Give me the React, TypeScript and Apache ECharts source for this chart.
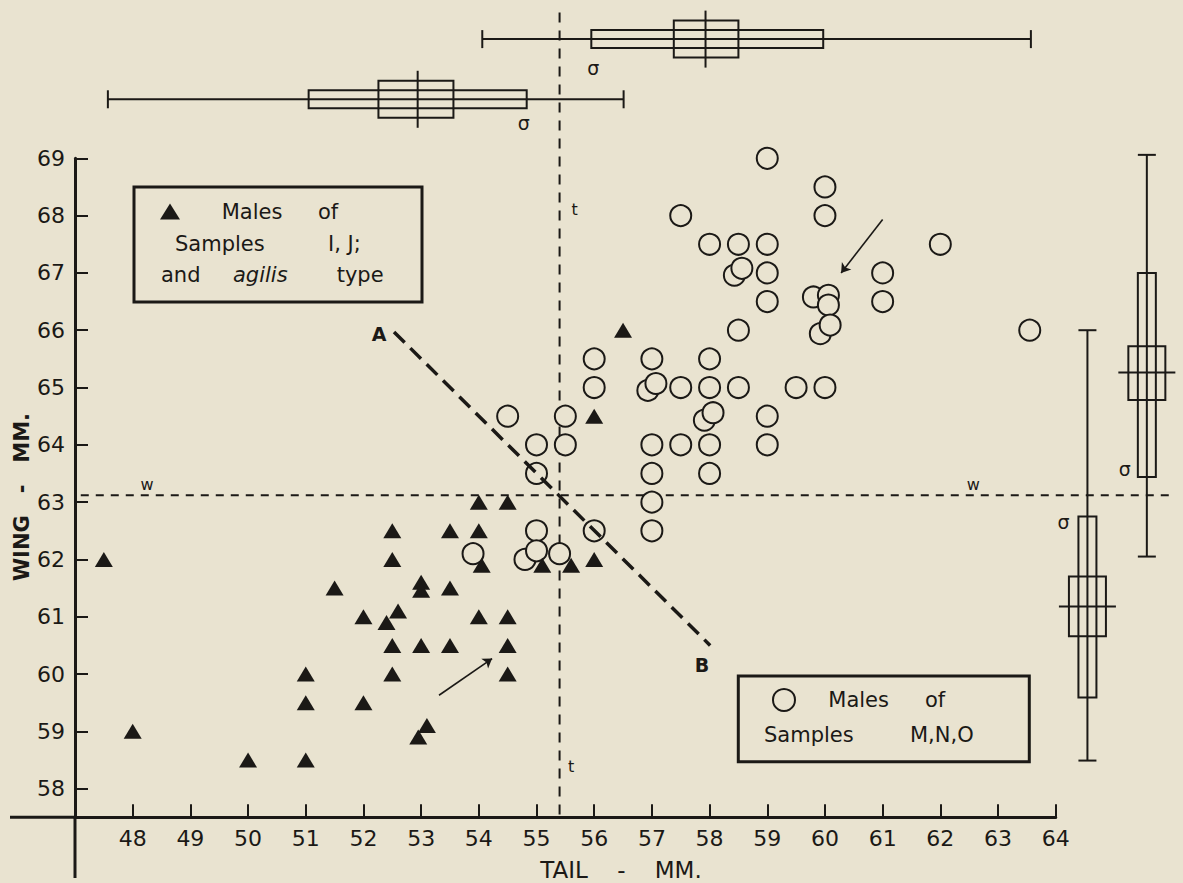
import React, { useEffect, useRef } from "react";
import * as echarts from "echarts";

// ---------- data ----------
const xTickValues = [48, 49, 50, 51, 52, 53, 54, 55, 56, 57, 58, 59, 60, 61, 62, 63, 64];
const yTickValues = [58, 59, 60, 61, 62, 63, 64, 65, 66, 67, 68, 69];

// Males of Samples M, N, O  (tail, wing)
const samplesMNO: number[][] = [
  [59, 69], [57.5, 68], [60, 68.5], [60, 68],
  [58, 67.5], [58.5, 67.5], [59, 67.5], [62, 67.5],
  [58.43, 66.96], [58.56, 67.08], [59, 67], [61, 67],
  [59, 66.5], [61, 66.5],
  [59.8, 66.58], [60.06, 66.61], [60.06, 66.44], [59.92, 65.94], [60.09, 66.09],
  [63.55, 66], [58.5, 66],
  [56, 65.5], [57, 65.5], [58, 65.5],
  [56, 65], [56.93, 64.95], [57.07, 65.07], [57.5, 65], [58, 65], [58.5, 65], [59.5, 65], [60, 65],
  [57.91, 64.43], [58.06, 64.56], [59, 64.5], [59, 64],
  [54.5, 64.5], [55.5, 64.5], [55, 64], [55.5, 64], [55, 63.5],
  [57, 64], [57.5, 64], [58, 64], [57, 63.5], [58, 63.5], [57, 63], [57, 62.5],
  [55, 62.5], [56, 62.5], [53.9, 62.1],
  [54.8, 62.0], [55.0, 62.15], [55.4, 62.1],
];

// Males of Samples I, J; and agilis type (tail, wing)
const samplesIJ: number[][] = [
  [47.5, 62], [48, 59], [50, 58.5], [51, 58.5], [51, 60], [51, 59.5],
  [51.5, 61.5], [52, 61], [52, 59.5], [52.5, 62.5], [52.5, 62],
  [52.4, 60.9], [52.6, 61.1], [52.5, 60.5], [52.5, 60],
  [53, 61.6], [53, 61.46], [53.5, 61.5], [53.5, 62.5], [54, 62.5],
  [54, 63], [54.5, 63], [54.05, 61.9], [54, 61], [54.5, 61],
  [53, 60.5], [53.5, 60.5], [54.5, 60.5], [54.5, 60],
  [53.1, 59.1], [52.95, 58.9],
  [55.1, 61.9], [55.6, 61.9], [56, 62], [56, 64.5], [56.5, 66],
];

// statistics: [min, -sigma, -2se, mean, +2se, +sigma, max]
const tailStatsIJ = [47.57, 51.05, 52.26, 52.94, 53.56, 54.83, 56.51];
const tailStatsMNO = [54.06, 55.95, 57.38, 57.93, 58.5, 59.97, 63.57];
const wingStatsIJ = [58.49, 59.59, 60.66, 61.18, 61.7, 62.75, 66.0];
const wingStatsMNO = [62.05, 63.44, 64.78, 65.26, 65.72, 67.0, 69.06];

const meanTailLine = 55.4;
const meanWingLine = 63.12;
const wLineExtent = [47.1, 66.03];
const tLineExtent = [57.55, 71.55];
const lineAB = [[52.53, 65.97], [58.01, 60.5]];
const arrowLines = [
  [[53.31, 59.63], [54.23, 60.27]],
  [[61.0, 67.93], [60.28, 67.0]],
];
const annotationLabels = ["w", "w", "t", "t", "A", "B"];
const annotationX = [48.25, 62.57, 55.66, 55.6, 52.27, 57.87];
const annotationY = [63.3, 63.3, 68.1, 58.38, 65.94, 60.15];

// ---------- layout / style ----------
const INK = "#1b1916";
const BG = "#e9e3d0";
const FONT = "DejaVu Sans";
const W = 1183;
const H = 883;
const GRID = { left: 75, right: W - 1055.7, top: 158.3, bottom: H - 817.3 };

// box placement on the opposite axis: [orientation (0 horiz, 1 vert), position, sigma end (0 low, 1 high)]
const boxPlacement = [
  [0, 70.03, 1],
  [0, 71.08, 0],
  [1, 64.55, 1],
  [1, 65.58, 0],
];
const boxStats = [tailStatsIJ, tailStatsMNO, wingStatsIJ, wingStatsMNO];
const sigmaOffsets = [
  [-3, 24],
  [2, 29],
  [6, -24],
  [-8, -22],
];

const boxData = boxStats.map((s, i) => [boxPlacement[i][0], boxPlacement[i][1], ...s, boxPlacement[i][2]]);

const renderBox = (params: any, api: any) => {
  const i = params.dataIndex;
  const horiz = api.value(0) === 0;
  const pos = api.value(1);
  const vals = [2, 3, 4, 5, 6, 7, 8].map((k) => api.value(k) as number);
  const [mn, sdLo, seLo, mean, seHi, sdHi, mx] = vals;
  const sigmaHigh = api.value(9) === 1;
  const pt = (v: number) => (horiz ? api.coord([v, pos]) : api.coord([pos, v]));
  const c = horiz ? pt(mn)[1] : pt(mn)[0];
  const A = (v: number) => (horiz ? pt(v)[0] : pt(v)[1]);
  const P = (along: number, across: number) => (horiz ? [along, c + across] : [c + across, along]);
  const style = { stroke: INK, lineWidth: 2, fill: "none" };
  const line = (a1: number, c1: number, a2: number, c2: number) => {
    const p1 = P(a1, c1);
    const p2 = P(a2, c2);
    return { type: "line", shape: { x1: p1[0], y1: p1[1], x2: p2[0], y2: p2[1] }, style };
  };
  const rect = (lo: number, hi: number, half: number) => {
    const p1 = P(A(lo), -half);
    const p2 = P(A(hi), half);
    return {
      type: "rect",
      shape: {
        x: Math.min(p1[0], p2[0]),
        y: Math.min(p1[1], p2[1]),
        width: Math.abs(p2[0] - p1[0]),
        height: Math.abs(p2[1] - p1[1]),
      },
      style,
    };
  };
  const so = sigmaOffsets[i];
  const endAlong = A(sigmaHigh ? sdHi : sdLo) + so[0];
  const sp = P(endAlong, so[1]);
  return {
    type: "group",
    children: [
      line(A(mn), 0, A(mx), 0),
      line(A(mn), -9, A(mn), 9),
      line(A(mx), -9, A(mx), 9),
      rect(sdLo, sdHi, 9),
      rect(seLo, seHi, 18.5),
      line(A(mean), -28.5, A(mean), 28.5),
      {
        type: "text",
        x: sp[0],
        y: sp[1],
        style: { text: "σ", fontSize: 19, fontFamily: FONT, fill: INK, align: "center", verticalAlign: "middle" },
      },
    ],
  };
};

// dashed reference lines (w: mean wing, t: mean tail)
const refLineData = [
  [wLineExtent[0], meanWingLine, wLineExtent[1], meanWingLine],
  [meanTailLine, tLineExtent[0], meanTailLine, tLineExtent[1]],
];
const refDash = [[8, 7], [10, 8]];
const renderRefLine = (params: any, api: any) => {
  const p1 = api.coord([api.value(0), api.value(1)]);
  const p2 = api.coord([api.value(2), api.value(3)]);
  return {
    type: "line",
    shape: { x1: p1[0], y1: p1[1], x2: p2[0], y2: p2[1] },
    style: { stroke: INK, lineWidth: 2, lineDash: refDash[params.dataIndex], fill: "none" },
  };
};

const annotationData = annotationLabels.map((_, i) => [annotationX[i], annotationY[i], i]);
const renderAnnotation = (params: any, api: any) => {
  const idx = api.value(2);
  const p = api.coord([api.value(0), api.value(1)]);
  const label = annotationLabels[idx];
  const big = label === "A" || label === "B";
  return {
    type: "text",
    x: p[0],
    y: p[1],
    style: {
      text: label,
      fontSize: big ? 19 : 16,
      fontWeight: big ? "bold" : "normal",
      fontFamily: FONT,
      fill: INK,
      align: "center",
      verticalAlign: "middle",
    },
  };
};

const textEl = (text: string, x: number, y: number, size = 21, extra: any = {}) => ({
  type: "text",
  x,
  y,
  style: { text, fontSize: size, fontFamily: FONT, fill: INK, align: "left", verticalAlign: "middle", ...extra },
});

const option: any = {
  animation: false,
  backgroundColor: BG,
  grid: { ...GRID, containLabel: false },
  xAxis: {
    type: "value",
    min: 47,
    max: 64,
    splitLine: { show: false },
    axisLine: { lineStyle: { color: INK, width: 3 } },
    axisTick: { inside: true, length: 13, lineStyle: { color: INK, width: 2 }, customValues: xTickValues },
    axisLabel: { customValues: xTickValues, margin: 10, fontSize: 22, fontFamily: FONT, color: INK },
  },
  yAxis: {
    type: "value",
    min: 57.5,
    max: 69,
    splitLine: { show: false },
    axisLine: { lineStyle: { color: INK, width: 3 } },
    axisTick: { inside: true, length: 13, lineStyle: { color: INK, width: 2 }, customValues: yTickValues },
    axisLabel: { customValues: yTickValues, margin: 10, fontSize: 22, fontFamily: FONT, color: INK },
  },
  series: [
    {
      type: "custom",
      coordinateSystem: "cartesian2d",
      clip: false,
      silent: true,
      renderItem: renderRefLine,
      data: refLineData,
    },
    {
      type: "line",
      data: lineAB,
      symbol: "none",
      silent: true,
      lineStyle: { color: INK, width: 3.5, type: [15, 8] },
    },
    {
      type: "custom",
      coordinateSystem: "cartesian2d",
      clip: false,
      silent: true,
      renderItem: renderBox,
      data: boxData,
    },
    {
      type: "custom",
      coordinateSystem: "cartesian2d",
      clip: false,
      silent: true,
      renderItem: renderAnnotation,
      data: annotationData,
    },
    {
      type: "lines",
      coordinateSystem: "cartesian2d",
      silent: true,
      symbol: ["none", "arrow"],
      symbolSize: 9,
      lineStyle: { color: INK, width: 1.6, opacity: 1, curveness: 0 },
      data: arrowLines.map((c) => ({ coords: c })),
    },
    {
      name: "Males of Samples M, N, O",
      type: "scatter",
      symbol: "circle",
      symbolSize: 21,
      itemStyle: { color: BG, borderColor: INK, borderWidth: 2, opacity: 1 },
      data: samplesMNO,
    },
    {
      name: "Males of Samples I, J; and agilis type",
      type: "scatter",
      symbol: "triangle",
      symbolSize: [18, 15],
      itemStyle: { color: INK, opacity: 1 },
      data: samplesIJ,
    },
  ],
  graphic: [
    // axis extensions beyond the crossing point
    { type: "line", shape: { x1: 10, y1: 817.3, x2: 75, y2: 817.3 }, style: { stroke: INK, lineWidth: 3 } },
    { type: "line", shape: { x1: 75, y1: 817.3, x2: 75, y2: 878 }, style: { stroke: INK, lineWidth: 3 } },
    // axis titles
    {
      type: "text",
      x: 21.7,
      y: 497,
      rotation: Math.PI / 2,
      style: {
        text: "WING   -   MM.",
        fontSize: 21,
        fontWeight: "bold",
        fontFamily: FONT,
        fill: INK,
        align: "center",
        verticalAlign: "middle",
      },
    },
    {
      type: "text",
      x: 621,
      y: 870,
      style: {
        text: "TAIL    -    MM.",
        fontSize: 23,
        fontFamily: FONT,
        fill: INK,
        align: "center",
        verticalAlign: "middle",
      },
    },
    // legend 1
    { type: "rect", shape: { x: 134, y: 187, width: 288, height: 115 }, style: { stroke: INK, lineWidth: 3, fill: "none" } },
    { type: "polygon", shape: { points: [[160, 219.5], [180, 219.5], [170, 203.5]] }, style: { fill: INK } },
    textEl("Males", 221.7, 211.7),
    textEl("of", 318, 211.7),
    textEl("Samples", 175, 244),
    textEl("I, J;", 328, 244),
    textEl("and", 161, 275),
    textEl("agilis", 233, 275, 21, { fontStyle: "italic" }),
    textEl("type", 336.7, 275),
    // legend 2
    { type: "rect", shape: { x: 738.3, y: 676, width: 291, height: 85.7 }, style: { stroke: INK, lineWidth: 3, fill: "none" } },
    { type: "circle", shape: { cx: 784, cy: 700, r: 11 }, style: { stroke: INK, lineWidth: 2, fill: "none" } },
    textEl("Males", 828.3, 700),
    textEl("of", 925, 700),
    textEl("Samples", 764, 735),
    textEl("M,N,O", 910, 735),
  ],
};

export default function App() {
  const ref = useRef<HTMLDivElement>(null);
  useEffect(() => {
    if (!ref.current) return;
    const chart = echarts.init(ref.current, null, { renderer: "svg" });
    chart.setOption(option);
    return () => chart.dispose();
  }, []);
  return (
    <div
      ref={ref}
      style={{ position: "fixed", left: 0, top: 0, width: W, height: H, background: BG }}
    />
  );
}
